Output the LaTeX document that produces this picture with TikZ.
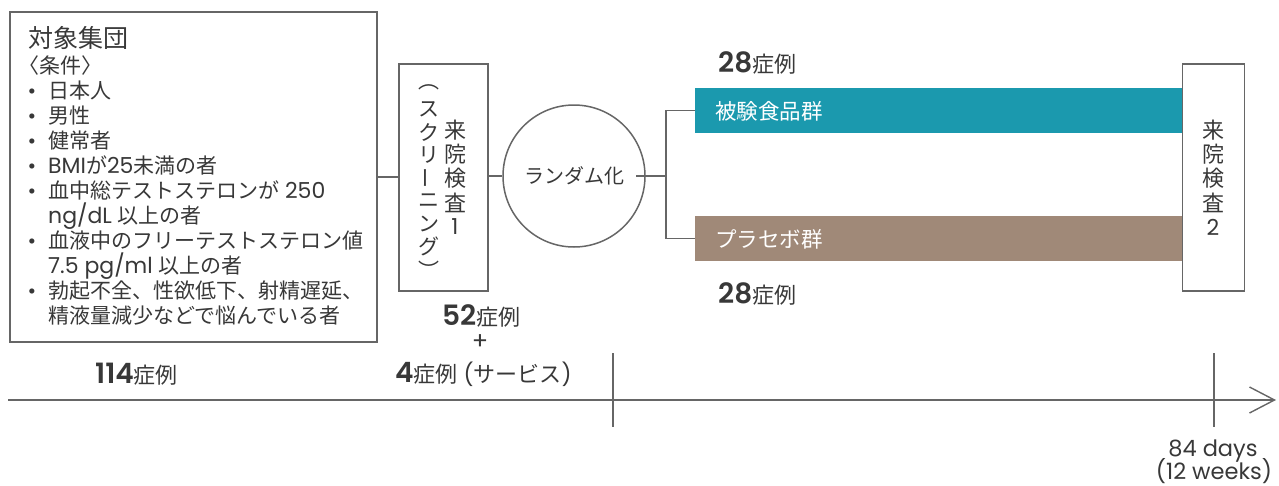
\documentclass[tikz,border=0pt]{standalone}
\usepackage{fontspec}
\setmainfont{Poppins}[BoldFont={Poppins SemiBold}]
\newfontfamily\jp{Noto Sans CJK JP}
\usetikzlibrary{arrows.meta,calc}
\definecolor{txt}{HTML}{383838}
\definecolor{ln}{HTML}{666666}
\definecolor{tealbar}{HTML}{1B99AE}
\definecolor{brownbar}{HTML}{A08978}
\newcommand\J[1]{{\jp #1}}
\newcommand\LL[1]{{\fontsize{22}{25}\selectfont #1}}
\newcommand\cnt[1]{{\fontsize{28}{28}\selectfont\bfseries #1}}
\newcommand\JC[1]{{\fontsize{22}{22}\selectfont\jp #1}}
\tikzset{
  box/.style={draw=ln, line width=1.6pt, fill=white, inner sep=0pt},
  conn/.style={draw=ln, line width=1.4pt},
  t/.style={text=txt, inner sep=0pt},
  bodytxt/.style={t, anchor=base west, font=\fontsize{21}{25}\selectfont\jp},
  bul/.style={t, anchor=base, font=\fontsize{21}{25}\selectfont},
  bartxt/.style={text=white, inner sep=0pt, anchor=west, font=\fontsize{21.5}{22}\selectfont\jp},
  vch/.style={t, font=\fontsize{22}{22}\selectfont\jp},
  vchs/.style={t, font=\fontsize{21}{21}\selectfont\jp},
  bar/.style={minimum width=488pt, minimum height=45pt, anchor=north west, inner sep=0pt},
  days/.style={t, anchor=base, font=\fontsize{22.5}{22.5}\selectfont},
}
\begin{document}
\begin{tikzpicture}[x=1pt,y=-1pt]
\useasboundingbox (0,0) rectangle (1279,485);

% population box
\node[box, minimum width=367pt, minimum height=330pt, anchor=north west] (pop) at (9,11) {};
\node[t, anchor=base west, font=\fontsize{25}{30}\selectfont\jp] (h0) at (28,47.5) {対象集団};
\node[bodytxt] (h1) at (18,73) {〈条件〉};
\foreach \yy [count=\i] in {98,123,148,173,198,248,298}
  \node[bul] (b\i) at (32,\yy) {•};
\node[bodytxt] (l1) at (48,98) {日本人};
\node[bodytxt] (l2) at (48,123) {男性};
\node[bodytxt] (l3) at (48,148) {健常者};
\node[bodytxt] (l4) at (48,173) {\LL{\rmfamily BMI}が\LL{\rmfamily 25}未満の者};
\node[bodytxt] (l5) at (48,198) {血中総テストステロンが\LL{\rmfamily\ 250}};
\node[bodytxt] (l6) at (48,223) {\LL{\rmfamily ng/dL }以上の者};
\node[bodytxt] (l7) at (48,248) {血液中のフリーテストステロン値};
\node[bodytxt] (l8) at (48,273) {\LL{\rmfamily 7.5 pg/ml }以上の者};
\node[bodytxt] (l9) at (48,298) {勃起不全、性欲低下、射精遅延、};
\node[bodytxt] (l10) at (48,323) {精液量減少などで悩んでいる者};

% screening box
\node[box, minimum width=89pt, minimum height=227pt] (scr) at (443.5,177.5) {};
\foreach \ch [count=\i] in {来,院,検,査}
  \node[vch] (sa\i) at (455,{130+24.25*(\i-1)}) {\ch};
\node[t, font=\fontsize{22}{22}\selectfont] (sa5) at (455,227) {1};
\foreach \ch [count=\i] in {︵,ス,ク,リ,{\rotatebox{90}{ー}},ニ,ン,グ,︶}
  \node[vchs] (sb\i) at (429,{87+22.8*(\i-1)}) {\ch};

% randomisation
\node[draw=ln, line width=1.5pt, circle, minimum size=142pt, inner sep=0pt, text=txt,
      font=\fontsize{20}{20}\selectfont\jp] (rnd) at (574,176) {ランダム化};

% groups
\node[bar, fill=tealbar] (tb) at (695,88) {};
\node[bar, fill=brownbar] (pb) at (695,216) {};
\node[bartxt] (tbt) at (715,111) {被験食品群};
\node[bartxt] (pbt) at (715,239) {プラセボ群};

% second visit
\node[box, minimum width=62pt, minimum height=227pt] (v2) at (1213.5,177.5) {};
\foreach \ch [count=\i] in {来,院,検,査}
  \node[vch] (sc\i) at (1213,{130+24.25*(\i-1)}) {\ch};
\node[t, font=\fontsize{22}{22}\selectfont] (sc5) at (1213,227) {2};

% connectors
\draw[conn] (pop.east) -- (pop.east -| scr.west);
\draw[conn] (scr.east |- rnd.west) -- (rnd.west);
\coordinate (rs) at (636,176);
\coordinate (br) at (666,176);
\draw[conn] (rs) -- (br);
\draw[conn] (tb.west) -| (br) |- (pb.west);

% counts
\node[t, anchor=base west] (c1) at (718,72) {\cnt{28}\JC{症例}};
\node[t, anchor=base west] (c2) at (718,303) {\cnt{28}\JC{症例}};
\node[t, anchor=base west] (c3) at (442,325) {\cnt{52}\JC{症例}};
\node[t, font=\fontsize{24}{24}\selectfont] (plus) at (480,342.5) {+};
\node[t, anchor=base west] (c4) at (395,382) {\cnt{4}\JC{症例}{\fontsize{22}{22}\selectfont\ (}\JC{サービス}{\fontsize{22}{22}\selectfont)}};
\node[t, anchor=base west] (c5) at (95,383) {\cnt{114}\JC{症例}};

% timeline
\coordinate (t0) at (8,400);
\coordinate (t1) at (1276,400);
\draw[conn, -{Straight Barb[length=25pt, width=26pt]}] (t0) -- (t1);
\coordinate (k0) at (613,353);
\coordinate (k1) at (613,427);
\draw[conn] (k0) -- (k1);
\coordinate (m0) at (1214,353);
\coordinate (m1) at (1214,427);
\draw[conn] (m0) -- (m1);
\node[days] (d1) at (1213,456) {84 days};
\node[days] (d2) at (1214,479.5) {(12 weeks)};
\end{tikzpicture}
\end{document}
